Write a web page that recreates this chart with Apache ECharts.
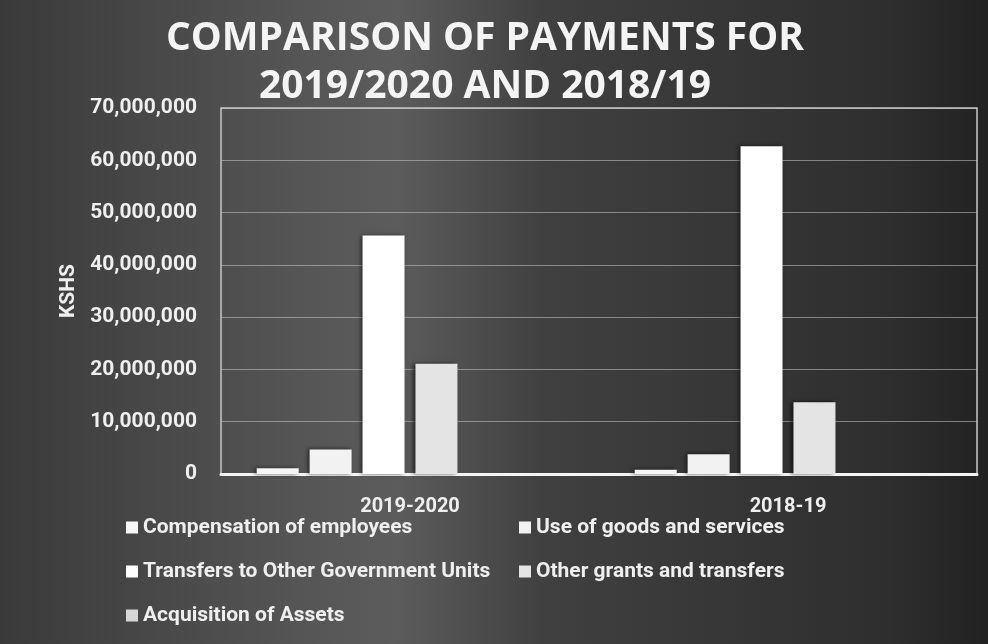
<!DOCTYPE html>
<html>
<head>
<meta charset="utf-8">
<script src="https://cdn.jsdelivr.net/npm/echarts@6/dist/echarts.min.js"></script>
<style>
  html, body { margin: 0; padding: 0; }
  #chart { width: 988px; height: 644px; }
</style>
</head>
<body>
<div id="chart"></div>
<script>
  // periods on the x axis
  var periods = ['2019-2020', '2018-19']

  // payments in KSHS, one array per item
  var compensation = [1100000, 800000]
  var goodsServices = [4700000, 3800000]
  var transfersGov = [45600000, 62700000]
  var otherGrants = [21100000, 13700000]
  var acquisition = [0, 0]
  var spareSlot = [0, 0]

  var seriesNames = ['Compensation of employees', 'Use of goods and services',
    'Transfers to Other Government Units', 'Other grants and transfers', 'Acquisition of Assets', '']
  var seriesData = [compensation, goodsServices, transfersGov, otherGrants, acquisition, spareSlot]
  var seriesColors = ['#f6f6f6', '#f2f2f2', '#ffffff', '#e4e4e4', '#d6d6d6', '#d6d6d6']

  var yTicks = [0, 10000000, 20000000, 30000000, 40000000, 50000000, 60000000, 70000000]

  var chart = echarts.init(document.getElementById('chart'))

  var series = []
  for (var i = 0; i < seriesData.length; i++) {
    series.push({
      name: seriesNames[i],
      type: 'bar',
      barWidth: 42,
      barGap: '26%',
      data: seriesData[i],
      itemStyle: {
        color: seriesColors[i],
        shadowColor: 'rgba(0,0,0,0.6)',
        shadowBlur: 4,
        shadowOffsetX: -2
      }
    })
  }

  var textFont = 'Roboto'
  var legendText = {color: '#efefef', fontFamily: textFont, fontWeight: 'bold', fontSize: 21}

  chart.setOption({
    backgroundColor: {
      type: 'linear', x: 0, y: 0, x2: 1, y2: 0,
      colorStops: [
        {offset: 0, color: '#3a3a3a'},
        {offset: 0.3, color: '#555555'},
        {offset: 0.4, color: '#5c5c5c'},
        {offset: 0.55, color: '#404040'},
        {offset: 0.9, color: '#2e2e2e'},
        {offset: 1, color: '#222222'}
      ]
    },
    title: {
      text: 'COMPARISON OF PAYMENTS FOR\n2019/2020 AND 2018/19',
      left: 480,
      textAlign: 'center',
      top: 10,
      textStyle: {
        color: '#f4f4f4',
        fontFamily: 'Open Sans',
        fontWeight: 'bold',
        fontSize: 39,
        lineHeight: 48
      }
    },
    legend: [
      {
        data: [seriesNames[0], seriesNames[2], seriesNames[4]],
        orient: 'vertical',
        left: 121,
        top: 512,
        itemGap: 23,
        itemWidth: 12,
        itemHeight: 12,
        icon: 'rect',
        textStyle: legendText
      },
      {
        data: [seriesNames[1], seriesNames[3]],
        orient: 'vertical',
        left: 514,
        top: 512,
        itemGap: 23,
        itemWidth: 12,
        itemHeight: 12,
        icon: 'rect',
        textStyle: legendText
      }
    ],
    grid: {
      left: 221,
      right: 11,
      top: 108,
      bottom: 170,
      show: true,
      borderColor: '#c8c8c8',
      borderWidth: 1.5
    },
    xAxis: {
      type: 'category',
      data: periods,
      axisTick: {show: false},
      axisLine: {lineStyle: {color: '#f4f4f4', width: 3}},
      axisLabel: {color: '#efefef', fontFamily: textFont, fontWeight: 'bold', fontSize: 20, margin: 23}
    },
    yAxis: {
      type: 'value',
      min: yTicks[0],
      max: yTicks[yTicks.length - 1],
      interval: yTicks[1] - yTicks[0],
      name: 'KSHS',
      nameLocation: 'middle',
      nameGap: 140,
      nameRotate: 90,
      nameTextStyle: {color: '#efefef', fontFamily: textFont, fontWeight: 'bold', fontSize: 21},
      axisLine: {show: false},
      axisTick: {show: false},
      splitLine: {lineStyle: {color: 'rgba(200,200,200,0.55)', width: 1}},
      axisLabel: {
        color: '#efefef',
        fontFamily: textFont,
        fontWeight: 'bold',
        fontSize: 21,
        margin: 24,
        formatter: function (v) {
          return v.toLocaleString('en-US')
        }
      }
    },
    series: series
  })
</script>
</body>
</html>
